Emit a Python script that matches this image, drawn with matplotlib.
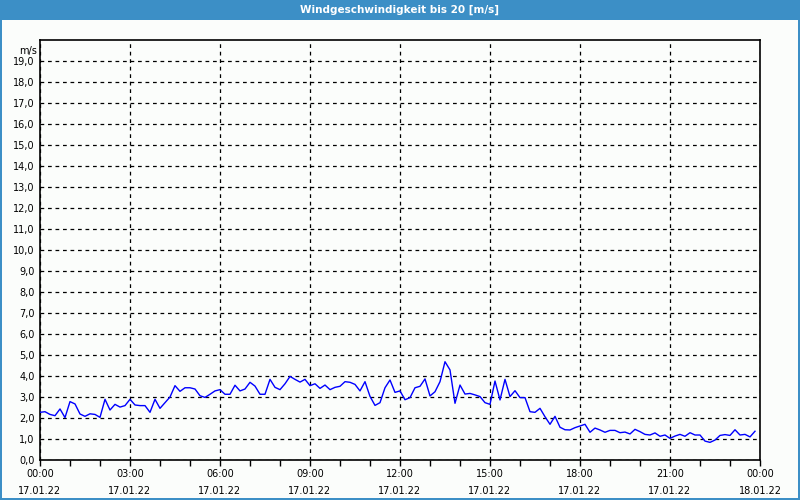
import matplotlib
matplotlib.use("Agg")
import matplotlib.pyplot as plt
from matplotlib.patches import Rectangle
import pandas as pd

title = "Windgeschwindigkeit bis 20 [m/s]"
unit_label = "m/s"

wind_speed = [
    2.27, 2.30, 2.17, 2.11, 2.43, 2.02, 2.78, 2.67, 2.19, 2.08, 2.20, 2.17, 2.03, 2.89, 2.38, 2.65,
    2.52, 2.59, 2.89, 2.62, 2.59, 2.59, 2.27, 2.89, 2.46, 2.73, 3.00, 3.54, 3.27, 3.44, 3.44, 3.38,
    3.06, 2.98, 3.13, 3.29, 3.35, 3.13, 3.13, 3.56, 3.29, 3.38, 3.70, 3.52, 3.13, 3.13, 3.84, 3.46,
    3.35, 3.63, 3.98, 3.84, 3.71, 3.84, 3.54, 3.63, 3.41, 3.57, 3.35, 3.46, 3.51, 3.73, 3.70, 3.60,
    3.29, 3.73, 3.03, 2.60, 2.73, 3.44, 3.81, 3.22, 3.29, 2.87, 2.97, 3.44, 3.51, 3.86, 3.05, 3.25,
    3.73, 4.68, 4.29, 2.70, 3.57, 3.14, 3.17, 3.10, 3.02, 2.73, 2.65, 3.76, 2.86, 3.84, 3.02, 3.30,
    2.97, 2.97, 2.30, 2.27, 2.46, 2.06, 1.70, 2.08, 1.56, 1.44, 1.43, 1.54, 1.62, 1.70, 1.32, 1.52,
    1.43, 1.32, 1.41, 1.41, 1.30, 1.33, 1.24, 1.46, 1.35, 1.22, 1.19, 1.29, 1.13, 1.19, 1.03, 1.14,
    1.22, 1.13, 1.30, 1.19, 1.19, 0.90, 0.84, 0.95, 1.17, 1.21, 1.17, 1.44, 1.19, 1.22, 1.10, 1.37,
]
start_time = "2022-01-17 00:00"
end_time = "2022-01-18 00:00"
tick_labels = [
    "00:00\n17.01.22", "03:00\n17.01.22", "06:00\n17.01.22", "09:00\n17.01.22",
    "12:00\n17.01.22", "15:00\n17.01.22", "18:00\n17.01.22", "21:00\n17.01.22",
    "00:00\n18.01.22",
]
y_ticks = list(range(0, 20))

times = pd.date_range(start_time, periods=len(wind_speed), freq="10min")
major_ticks = pd.date_range(start_time, end_time, freq="3h")
minor_ticks = pd.date_range(start_time, end_time, freq="1h")

blue = "#3c8fc6"
bg = "#fbfdfb"

fig = plt.figure(figsize=(8, 5), dpi=100, facecolor=bg)
# title bar
fig.patches.append(Rectangle((0, 0.96), 1, 0.04, transform=fig.transFigure,
                             facecolor=blue, edgecolor="none", zorder=0))
fig.text(0.5, 0.98, title, color="white", ha="center", va="center",
         fontsize=7.5, fontweight="bold", family="DejaVu Sans")
# frame border
for rect in [(0, 0, 0.0025, 1), (0.9975, 0, 0.0025, 1), (0, 0, 1, 0.004)]:
    fig.patches.append(Rectangle(rect[:2], rect[2], rect[3], transform=fig.transFigure,
                                 facecolor=blue, edgecolor="none", zorder=0))

ax = fig.add_axes([0.05, 0.08, 0.90, 0.84])
ax.set_facecolor(bg)
ax.plot(times, wind_speed, color="#0000ff", linewidth=1.0, zorder=3)

ax.set_xlim(pd.Timestamp(start_time), pd.Timestamp(end_time))
ax.set_ylim(0, 20)
ax.set_yticks(y_ticks)
ax.set_yticklabels([f"{v:.1f}".replace(".", ",") for v in y_ticks], fontsize=7)
ax.set_xticks(major_ticks)
ax.set_xticklabels(tick_labels, fontsize=7, linespacing=1.9)
ax.set_xticks(minor_ticks, minor=True)
ax.tick_params(axis="x", which="both", direction="out", length=4, width=1, pad=2.5, colors="black")
ax.tick_params(axis="y", length=0, pad=4)

ax.grid(True, which="major", axis="both", color="black", linestyle=(0, (3, 3)), linewidth=0.9)
for s in ax.spines.values():
    s.set_color("black")
    s.set_linewidth(1.2)

ax.text(-0.004, 0.985, unit_label, transform=ax.transAxes, ha="right", va="top", fontsize=7)

fig.savefig("out.png", dpi=100, facecolor=bg)
